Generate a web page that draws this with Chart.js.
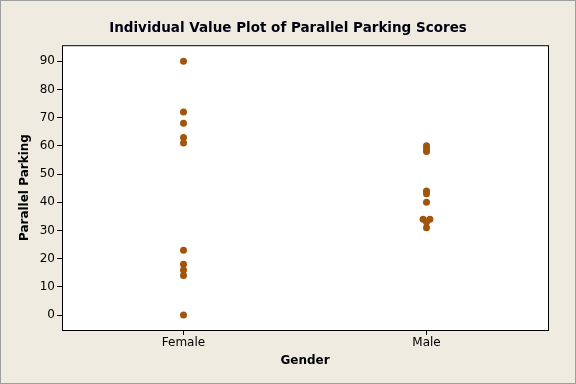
<!DOCTYPE html>
<html>
<head>
<meta charset="utf-8">
<script src="https://cdn.jsdelivr.net/npm/chart.js@4"></script>
<style>
    html, body { margin: 0; padding: 0; background: #efebe0; }
    #wrap { width: 576px; height: 384px; }
</style>
</head>
<body>
<div id="wrap"><canvas id="chart" width="576" height="384"></canvas></div>
<script>
const categories = ['Female', 'Male'];
const femaleScores = [90, 72, 68, 63, 61, 23, 18, 16, 14, 0];
const maleScores = [60, 59, 58, 44, 43, 40, 34, 34, 33, 31];
// Minitab shifts tied values sideways a little
const maleJitter = [0, 0, 0, 0, 0, 0, -0.014, 0.014, 0, 0];
const yTicks = [0, 10, 20, 30, 40, 50, 60, 70, 80, 90];

const dotColor = '#a1540c';
const font = 'Tahoma, "DejaVu Sans", sans-serif';

const femalePoints = femaleScores.map(v => ({ x: 1, y: v }));
const malePoints = maleScores.map((v, i) => ({ x: 2 + maleJitter[i], y: v }));

// white plot box with a black frame, thin grey frame round the page
const frame = {
    id: 'frame',
    beforeDraw(chart) {
        const { ctx, chartArea: a } = chart;
        ctx.save();
        ctx.fillStyle = '#ffffff';
        ctx.fillRect(a.left, a.top, a.right - a.left, a.bottom - a.top);
        ctx.restore();
    },
    afterDraw(chart) {
        const { ctx, chartArea: a } = chart;
        ctx.save();
        ctx.strokeStyle = '#000000';
        ctx.lineWidth = 1;
        ctx.strokeRect(a.left + 0.5, a.top + 0.5, a.right - a.left, a.bottom - a.top);
        ctx.strokeStyle = '#a0a0a0';
        ctx.strokeRect(0.5, 0.5, chart.width - 1, chart.height - 1);
        ctx.restore();
    },
};

new Chart(document.getElementById('chart'), {
    type: 'scatter',
    data: {
        datasets: [
            { data: femalePoints },
            { data: malePoints },
        ],
    },
    options: {
        responsive: false,
        animation: false,
        layout: { padding: 0 },
        elements: {
            point: {
                radius: 3.5,
                backgroundColor: dotColor,
                borderColor: dotColor,
                borderWidth: 0,
            },
        },
        plugins: {
            legend: { display: false },
            tooltip: { enabled: false },
            title: {
                display: true,
                text: 'Individual Value Plot of Parallel Parking Scores',
                color: '#000011',
                font: { family: font, size: 13.5, weight: 'bold' },
                padding: { top: 20, bottom: 9 },
            },
        },
        scales: {
            x: {
                type: 'linear',
                min: 0.5,
                max: 2.5,
                afterBuildTicks: (axis) => {
                    axis.ticks = categories.map((c, i) => ({ value: i + 1 }));
                },
                afterFit: (axis) => { axis.height = 54; },
                ticks: {
                    callback: (value) => categories[value - 1],
                    color: '#000000',
                    font: { family: font, size: 12 },
                    padding: 1,
                    maxRotation: 0,
                },
                grid: {
                    drawOnChartArea: false,
                    color: '#000000',
                    tickLength: 5,
                },
                border: { display: false },
                title: {
                    display: true,
                    text: 'Gender',
                    color: '#000000',
                    font: { family: font, size: 12, weight: 'bold' },
                    padding: { top: 0, bottom: 16 },
                },
            },
            y: {
                min: -5.3,
                max: 95.7,
                afterBuildTicks: (axis) => {
                    axis.ticks = yTicks.map(v => ({ value: v }));
                },
                afterFit: (axis) => { axis.width = 62; },
                ticks: {
                    color: '#000000',
                    font: { family: font, size: 12 },
                    padding: 2,
                },
                grid: {
                    drawOnChartArea: false,
                    color: '#000000',
                    tickLength: 5,
                },
                border: { display: false },
                title: {
                    display: true,
                    text: 'Parallel Parking',
                    color: '#000000',
                    font: { family: font, size: 12, weight: 'bold' },
                    padding: { top: 18, bottom: 0 },
                },
            },
            // empty margin on the right so the title centres on the whole page
            yRight: {
                position: 'right',
                min: -5.3,
                max: 95.7,
                afterFit: (axis) => { axis.width = 28; },
                ticks: { display: false },
                grid: { display: false },
                border: { display: false },
            },
        },
    },
    plugins: [frame],
});
</script>
</body>
</html>
